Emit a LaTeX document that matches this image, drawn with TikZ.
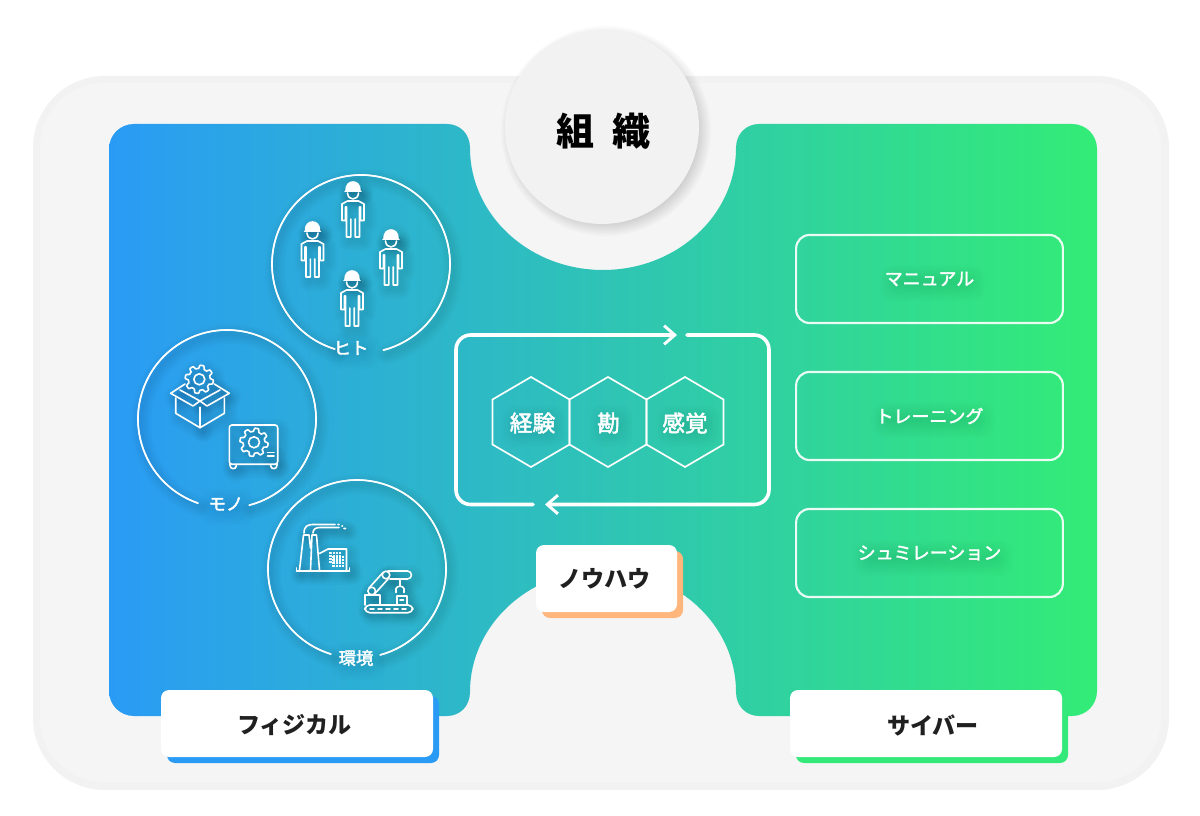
\documentclass[tikz,border=0pt]{standalone}
\usepackage{fontspec}
\setmainfont{Noto Sans CJK JP}
\newfontfamily\cjkm[FakeBold=2.2]{Noto Sans CJK JP}
\usetikzlibrary{arrows.meta}
\definecolor{gblue}{HTML}{2A9BF5}
\definecolor{ggreen}{HTML}{33EC76}
\definecolor{tagorange}{HTML}{FFB67C}
\definecolor{tagblue}{HTML}{2A9BF5}
\definecolor{taggreen}{HTML}{33E97A}
\definecolor{panelbg}{HTML}{F5F5F5}
\definecolor{panelrim}{HTML}{F2F2F2}
\definecolor{orgfill}{HTML}{F2F2F2}
\definecolor{inkdark}{HTML}{202020}
\tikzset{
  ic/.style={draw=white,line width=1.2pt,line join=round,line cap=round},
  icf/.style={fill=white},
  ringline/.style={draw=white,line width=1.05pt},
  hexline/.style={draw=white,line width=1.25pt,line join=miter},
  loopline/.style={draw=white,line width=2.7pt,rounded corners=11pt,line cap=round,
    -{Straight Barb[length=8pt,width=14pt,line width=2.2pt]}},
  cardbox/.style={draw=white,line width=1.6pt,rounded corners=10pt,minimum width=200pt,minimum height=66pt,
    text=white,font=\cjkm\fontsize{13.5pt}{16pt}\selectfont,draw opacity=.9},
  ringlabel/.style={text=white,font=\cjkm\fontsize{13pt}{15pt}\selectfont,inner sep=0pt},
  hexlabel/.style={text=white,font=\cjkm\fontsize{17pt}{20pt}\selectfont,inner sep=0pt},
  tagbox/.style={fill=white,rounded corners=6pt,minimum width=204pt,minimum height=50.25pt,inner sep=0pt},
  tagtext/.style={text=inkdark,inner sep=0pt,font=\bfseries\fontsize{17.3pt}{20pt}\selectfont},
  tagback/.style={rounded corners=6pt,minimum width=204pt,minimum height=50.25pt,inner sep=0pt},
}
\newcommand\softpass[1]{%
  \foreach \w in {4,8,12,16,20}{%
    \begin{scope}[shift={(3,4)},
      ic/.style={draw=black,opacity=.014,line width=\w*.75pt,line join=round,line cap=round},
      icf/.style={fill=black,opacity=.014}]
      #1
    \end{scope}}%
  #1}
\newcommand\softblob[4]{%
  \foreach \w in {-4,-2,0,2,4,6,8,10,12}{%
    \fill[black,opacity=.0075,rounded corners=9pt] (#1-#3/2-\w,#2-#4/2-\w) rectangle (#1+#3/2+\w,#2+#4/2+\w);}}
\newcommand\workerfig[2]{%
  \begin{scope}[shift={(#1,#2)}]
    \path[ic,icf] (-7,8.5) .. controls (-7,3) and (-4,0) .. (0,0) .. controls (4,0) and (7,3) .. (7,8.5) -- cycle;
    \path[ic] (-8,9.5) -- (8,9.5);
    \path[ic] (-5.5,11) .. controls (-5,19) and (5,19) .. (5.5,11);
    \path[ic] (-6.5,55) -- (-6.5,25) -- (-7.5,25) -- (-7.5,38.5) -- (-11,38.5) -- (-11,22) -- (-5.5,19) -- (5.5,19) -- (11,22) -- (11,38.5) -- (7.5,38.5) -- (7.5,25) -- (6.5,25) -- (6.5,55) -- (2.2,55) -- (2.2,37) (-2.2,37) -- (-2.2,55) -- (-6.5,55);
  \end{scope}}
\newcommand\gearfig[4]{%
  \path[ic] plot[domain=0:360,samples=121,variable=\t] ({#1+(#3+0.13*#3*max(-1,min(1,2.2*sin(8*\t))))*cos(\t)},{#2+(#3+0.13*#3*max(-1,min(1,2.2*sin(8*\t))))*sin(\t)}) -- cycle;
  \path[ic] (#1,#2) circle[radius=#4];}
\newcommand\boxfig{%
  \gearfig{199.3}{379.3}{12.5}{5.5}
  \path[ic] (175.7,398) -- (175.7,413.3) -- (200,427.7) -- (224.3,413.3) -- (224.3,398);
  \path[ic] (200,427.7) -- (200,407.3);
  \path[ic] (185,384) -- (170.7,393.3) -- (193,406) -- (200,401) -- (207,406) -- (229.3,393.3) -- (214.3,384);
  \path[ic] (180,390) -- (200,401) -- (220,390);}
\newcommand\safefig{%
  \gearfig{254}{442.3}{12.5}{5.5}
  \path[ic,rounded corners=2pt] (229.3,464.3) -- (229.3,425) -- (277.7,425) -- (277.7,464.3) -- cycle;
  \path[ic] (229.8,464.3) .. controls (229.8,470) and (236,470) .. (236.5,465.5);
  \path[ic] (277.2,464.3) .. controls (277.2,470) and (271,470) .. (270.5,465.5);
  \path[ic] (267.5,452.7) -- (274,452.7) (267.5,456.3) -- (274,456.3);}
\newcommand\factoryfig{%
  \path[ic] (296.5,571) -- (349.5,571) (296.5,571) -- (296.5,568) (349.5,571) -- (349.5,568);
  \path[ic] (299.5,570) -- (303.5,535) -- (309,535) -- (310.5,548) (310.5,570) -- (312,535) -- (316.5,535) -- (319.5,570);
  \path[ic] (319.5,553.5) -- (328,549) -- (346.5,549) -- (346.5,570);
  \path[ic] (304,533) .. controls (304,526) and (308,524.5) .. (313,524.5) -- (335,524.5) (338,524.5) -- (339,524.5) (342,526) -- (342.5,526);
  \path[ic] (313,533) .. controls (313,529) and (316,527.5) .. (320,527.5) -- (339,527.5) (344,528.5) -- (345.5,528.5);
  \foreach \a in {0,1,2,3}{\foreach \b in {0,1,2,3}{\fill[white,opacity=.9] (329.3+\a*3.3,552+\b*3) rectangle ++(2.2,2);}}}
\newcommand\robotfig{%
  \path[ic,rounded corners=3.5pt] (365,605) -- (412.7,605) -- (412.7,612.7) -- (365,612.7) -- cycle;
  \path[ic,dash pattern=on 3pt off 3pt] (370,609) -- (409,609);
  \path[ic] (365,605) -- (365,595) -- (380,595) -- (380,605);
  \path[ic] (396.7,605) -- (396.7,596) -- (406.7,596) -- (406.7,605) (400,600) -- (403.5,600);
  \path[ic] (371.7,591) circle[radius=3.8];
  \path[ic] (386,575) circle[radius=3.8];
  \path[ic] (369,588) -- (383,572.5) (374.5,594) -- (389,578);
  \path[ic,rounded corners=3pt] (388,571) -- (411.5,571) -- (411.5,579) -- (390,579);
  \path[ic] (400,579) -- (400,586);
  \path[ic] (396,592.5) -- (396,588.5) .. controls (397,585.5) and (403,585.5) .. (404,588.5) -- (404,592.5);}
\begin{document}
\begin{tikzpicture}[x=.75pt,y=-.75pt]
\useasboundingbox (0,0) rectangle (1200,816);
\fill[white] (0,0) rectangle (1200,816);
% outer panel
\fill[panelrim,rounded corners=54pt] (33,76) rectangle (1169,790);
\fill[panelbg,rounded corners=48pt] (40,83) rectangle (1161,782);
% gradient panel
\shade[left color=gblue,right color=ggreen]
  (134,124) -- (447,124) .. controls (460,124) and (470,134) .. (470,148)
  .. controls (470,215.4) and (529.5,270) .. (603,270)
  .. controls (676.5,270) and (736,215.4) .. (736,148)
  .. controls (736,134) and (746,124) .. (759,124) -- (1072,124)
  .. controls (1086,124) and (1097,135) .. (1097,149) -- (1097,691)
  .. controls (1097,705) and (1086,716) .. (1072,716) -- (759,716)
  .. controls (746,716) and (736,706) .. (736,692)
  .. controls (736,624.6) and (676.5,570) .. (603,570)
  .. controls (529.5,570) and (470,624.6) .. (470,692)
  .. controls (470,706) and (460,716) .. (447,716) -- (134,716)
  .. controls (120,716) and (109,705) .. (109,691) -- (109,149)
  .. controls (109,135) and (120,124) .. (134,124) -- cycle;
% organisation circle with soft shadow
\foreach \w in {-8,-6.5,-5,-3.5,-2,-.5,1,2.5,4,5.5,7,8.5,10}{\fill[black,opacity=.014] (606,131) circle[radius=95+\w];}
\node[circle,fill=orgfill,minimum size=145.5pt,inner sep=0pt] (org) at (602,127) {};
\node[text=black,font=\bfseries\fontsize{28.5pt}{32pt}\selectfont,inner sep=0pt] (orgtext) at (603.5,131) {組\hspace{13pt}織};
% rings
\softpass{\path[ic] (361,264) ++(107:89) arc[start angle=107,end angle=435.5,radius=89];}
\path[ringline] (361,264) ++(107:89) arc[start angle=107,end angle=435.5,radius=89];
\softpass{\path[ic] (227,419) ++(109:89) arc[start angle=109,end angle=435.6,radius=89];}
\path[ringline] (227,419) ++(109:89) arc[start angle=109,end angle=435.6,radius=89];
\softpass{\path[ic] (357,569) ++(107:89) arc[start angle=107,end angle=435,radius=89];}
\path[ringline] (357,569) ++(107:89) arc[start angle=107,end angle=435,radius=89];
% icons
\softpass{\workerfig{353}{182}\workerfig{312.5}{222}\workerfig{391}{230}\workerfig{352}{271}}
\softpass{\boxfig\safefig}
\softpass{\factoryfig\robotfig}
% ring labels
\softblob{353}{351}{30}{12}\softblob{228}{507}{30}{12}\softblob{358}{661}{32}{14}
\node[ringlabel] (hito) at (351,348) {ヒト};
\node[ringlabel] (mono) at (226,504) {モノ};
\node[ringlabel] (kankyo) at (356,658) {環境};
% centre loop
\coordinate (lr) at (687,335); \coordinate (ltr) at (769,335); \coordinate (lbr) at (769,504.5); \coordinate (la) at (545,504.5);
\coordinate (lb) at (533,504.5); \coordinate (lbl) at (456,504.5); \coordinate (ltl) at (456,335); \coordinate (lc) at (677,335);
\draw[loopline] (lr) -- (ltr) -- (lbr) -- (la);
\draw[loopline] (lb) -- (lbl) -- (ltl) -- (lc);
% hexagons
\softblob{534}{426}{40}{18}\softblob{611}{426}{20}{18}\softblob{688}{426}{40}{18}
\foreach \c in {531,608,685}{\path[hexline] (\c,377) -- (\c+38.5,399.5) -- (\c+38.5,444.5) -- (\c,467) -- (\c-38.5,444.5) -- (\c-38.5,399.5) -- cycle;}
\node[hexlabel] (keiken) at (532.5,423) {経験};
\node[hexlabel] (kan) at (608.5,423) {勘};
\node[hexlabel] (kankaku) at (685,423) {感覚};
% right cards
\softblob{933}{283}{82}{12}\softblob{933}{420}{100}{12}\softblob{933}{558}{136}{12}
\node[cardbox] (manual) at (929.5,279) {マニュアル};
\node[cardbox] (training) at (929.5,416) {\raisebox{-.8pt}{トレーニング}};
\node[cardbox] (simulation) at (929.5,553) {\raisebox{-1.5pt}{シュミレーション}};
% tags
\node[tagback,fill=tagorange,minimum width=105.75pt] (howb) at (612.5,584.5) {};
\node[tagbox,minimum width=105.75pt] (how) at (606.5,578.5) {};
\node[tagtext] (howt) at (604.5,579) {ノウハウ};
\node[tagback,fill=tagblue] (physb) at (303,729.5) {};
\node[tagbox] (phys) at (297,723.5) {};
\node[tagtext] (physt) at (294.5,725) {フィジカル};
\node[tagback,fill=taggreen] (cybb) at (932,729.5) {};
\node[tagbox] (cyb) at (926,723.5) {};
\node[tagtext] (cybt) at (933,725) {サイバー};
\end{tikzpicture}
\end{document}
